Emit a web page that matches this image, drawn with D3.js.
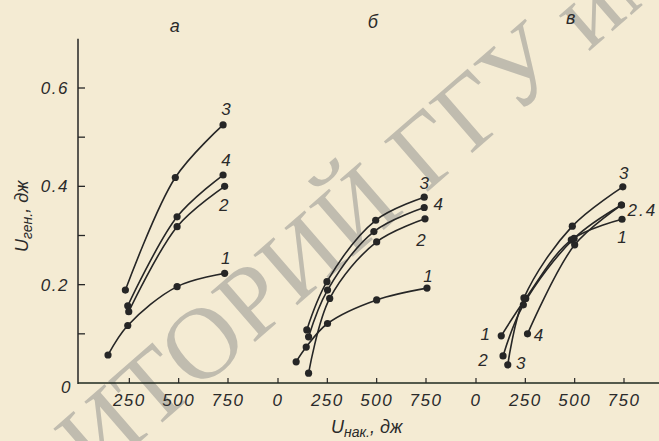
<!DOCTYPE html>
<html lang="ru">
  <head>
    <meta charset="UTF-8" />
    <title>Uген vs Uнак</title>
    <style>
      body { margin: 0; background: #f4ebd3; }
      svg text { font-family: "Liberation Sans", "DejaVu Sans", sans-serif; font-style: italic; fill: #2a2a2a; }
    </style>
  </head>
  <script src="https://d3js.org/d3.v7.min.js"></script>
  <body>
    <div id="chart"></div>
  </body>
  <script>
    // panels and their curves ([Uнак, Uген])
    const panels = ["а", "б", "в"];

    const a1 = [[142, 0.057], [242, 0.117], [492, 0.196], [733, 0.223]];
    const a2 = [[247, 0.145], [492, 0.318], [733, 0.40]];
    const a3 = [[230, 0.189], [483, 0.418], [725, 0.525]];
    const a4 = [[242, 0.157], [492, 0.338], [725, 0.423]];

    const b1 = [[92, 0.043], [143, 0.073], [251, 0.121], [500, 0.169], [755, 0.193]];
    const b2 = [[155, 0.02], [262, 0.172], [500, 0.287], [745, 0.334]];
    const b3 = [[146, 0.108], [248, 0.206], [495, 0.331], [741, 0.378]];
    const b4 = [[155, 0.094], [251, 0.189], [486, 0.308], [741, 0.357]];

    const c1 = [[128, 0.096], [252, 0.172], [483, 0.291], [740, 0.333]];
    const c2 = [[137, 0.055], [240, 0.159], [497, 0.294], [737, 0.362]];
    const c3 = [[161, 0.037], [243, 0.173], [488, 0.319], [744, 0.399]];
    const c4 = [[261, 0.10], [500, 0.281], [737, 0.362]];

    const xTicks = [0, 250, 500, 750];
    const yTicks = [0.1, 0.2, 0.3, 0.4, 0.5, 0.6];
    const yTickLabels = [0, 0.2, 0.4, 0.6];

    // curve number labels: which end of the curve, and offset
    const series = [
      [
        { pts: a1, labels: [["1", "end", 1, -9]] },
        { pts: a2, labels: [["2", "end", -1, 25]] },
        { pts: a3, labels: [["3", "end", 3, -10]] },
        { pts: a4, labels: [["4", "end", 3, -9]] },
      ],
      [
        { pts: b1, labels: [["1", "end", 1, -6]] },
        { pts: b2, labels: [["2", "end", -4, 27]] },
        { pts: b3, labels: [["3", "end", 0, -8]] },
        { pts: b4, labels: [["4", "end", 14, 3]] },
      ],
      [
        { pts: c1, labels: [["1", "end", 0, 24], ["1", "start", -16, 4]] },
        { pts: c2, labels: [["2", "start", -20, 10]] },
        { pts: c3, labels: [["3", "end", 1, -8], ["3", "start", 13, 4]] },
        { pts: c4, labels: [["2.4", "end", 21, 11], ["4", "start", 11, 7]] },
      ],
    ];

    const W = 659, H = 441;
    const ink = "#262626";

    const svg = d3
      .select("#chart")
      .append("svg")
      .attr("width", W)
      .attr("height", H);

    svg.append("rect").attr("width", W).attr("height", H).attr("fill", "#f4ebd3");

    // watermark of the scan
    const wm = svg
      .append("g")
      .attr("transform", "translate(95,481) rotate(-41)")
      .style("font-size", "102px");
    wm.append("text")
      .attr("text-anchor", "end")
      .style("fill", "#c0bcaf")
      .style("font-style", "normal")
      .style("font-family", "'Liberation Serif', serif")
      .text("РЕПОЗ");
    wm.append("text")
      .attr("text-anchor", "start")
      .style("fill", "#c0bcaf")
      .style("font-style", "normal")
      .style("font-family", "'Liberation Serif', serif")
      .text("ИТОРИЙ ГГУ имени Ф. Скорины");

    // scales
    const y = d3.scaleLinear().domain([0, 0.6]).range([383, 88]);
    const origins = [80, 278, 476];
    const xs = origins.map((o) => d3.scaleLinear().domain([0, 750]).range([o, o + 148]));

    // axes
    svg.append("line")
      .attr("x1", 78).attr("x2", 78)
      .attr("y1", y(0) + 1).attr("y2", y(0.7))
      .attr("stroke", ink).attr("stroke-width", 1.5);
    svg.append("line")
      .attr("x1", 78).attr("x2", W)
      .attr("y1", y(0)).attr("y2", y(0))
      .attr("stroke", "#1f2a1f").attr("stroke-width", 1.6);

    // y ticks pointing inward
    svg.selectAll(".yt")
      .data(yTicks)
      .join("line")
      .attr("x1", 78).attr("x2", 85)
      .attr("y1", (d) => y(d)).attr("y2", (d) => y(d))
      .attr("stroke", ink).attr("stroke-width", 1.3);
    svg.selectAll(".yl")
      .data(yTickLabels)
      .join("text")
      .attr("x", (d) => (d === 0 ? 72 : 69))
      .attr("y", (d) => y(d) + (d === 0 ? 10 : 6))
      .attr("text-anchor", "end")
      .style("font-size", "17px")
      .style("letter-spacing", "1.5px")
      .text((d) => (d === 0 ? "0" : d.toFixed(1)));

    // x ticks for every panel
    xs.forEach((x, i) => {
      const ticks = i === 0 ? xTicks.slice(1) : xTicks;
      svg.append("g")
        .selectAll("line")
        .data(ticks)
        .join("line")
        .attr("x1", (d) => x(d)).attr("x2", (d) => x(d))
        .attr("y1", y(0)).attr("y2", y(0) - 5)
        .attr("stroke", ink).attr("stroke-width", 1.2);
      svg.append("g")
        .selectAll("text")
        .data(ticks)
        .join("text")
        .attr("x", (d) => x(d))
        .attr("y", y(0) + 23)
        .attr("text-anchor", "middle")
        .style("font-size", "17px")
        .style("letter-spacing", "1.5px")
        .text((d) => d);

      // panel letter
      svg.append("text")
        .attr("x", x(480))
        .attr("y", 32 - i * 4)
        .attr("text-anchor", "middle")
        .style("font-size", "18px")
        .text(panels[i]);
    });

    // curves
    const line = d3.line().curve(d3.curveCatmullRom.alpha(0.5));
    series.forEach((group, i) => {
      const x = xs[i];
      group.forEach((s) => {
        const p = s.pts.map((d) => [x(d[0]), y(d[1])]);
        svg.append("path")
          .attr("d", line(p))
          .attr("fill", "none")
          .attr("stroke", ink)
          .attr("stroke-width", 1.6);
        svg.append("g")
          .selectAll("circle")
          .data(p)
          .join("circle")
          .attr("cx", (d) => d[0])
          .attr("cy", (d) => d[1])
          .attr("r", 3.6)
          .attr("fill", ink);
        s.labels.forEach(([t, at, dx, dy]) => {
          const q = at === "end" ? p[p.length - 1] : p[0];
          svg.append("text")
            .attr("x", q[0] + dx)
            .attr("y", q[1] + dy)
            .attr("text-anchor", "middle")
            .style("font-size", "17px")
            .style("letter-spacing", t.length > 1 ? "2px" : "0px")
            .text(t);
        });
      });
    });

    // axis titles
    const yt = svg.append("text")
      .attr("transform", "translate(28,252) rotate(-90)")
      .style("font-size", "18px");
    yt.append("tspan").text("U");
    yt.append("tspan").attr("dy", 4).style("font-size", "14px").text("ген.");
    yt.append("tspan").attr("dy", -4).text(", дж");

    const xt = svg.append("text")
      .attr("x", 331)
      .attr("y", 433)
      .style("font-size", "18px");
    xt.append("tspan").text("U");
    xt.append("tspan").attr("dy", 4).style("font-size", "14px").text("нак.");
    xt.append("tspan").attr("dy", -4).text(", дж");
  </script>
</html>
